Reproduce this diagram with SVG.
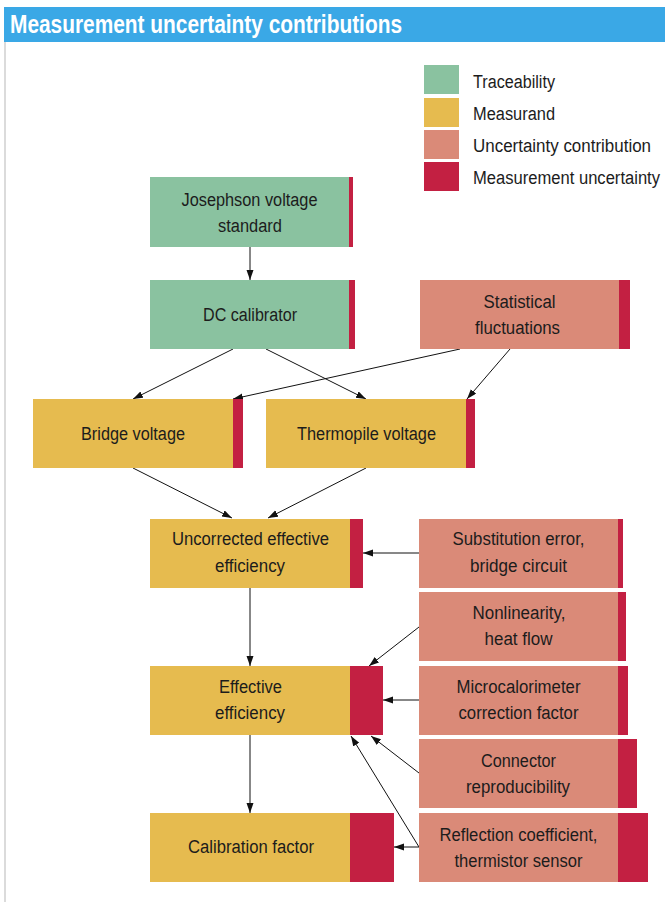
<svg xmlns="http://www.w3.org/2000/svg" width="665" height="902" viewBox="0 0 665 902">
  <defs>
    <style>
      .t { font-family: "Liberation Sans Narrow", "Liberation Sans", Arial, sans-serif; font-size: 18px; fill: #1c1c1c; }
      .title { font-family: "Liberation Sans Narrow", "Liberation Sans", Arial, sans-serif; font-size: 25px; font-weight: bold; fill: #ffffff; }
      .trace { fill: #8ac2a0; }
      .meas { fill: #e6bb4f; }
      .contrib { fill: #da8a78; }
      .unc { fill: #c32042; }
      .conn line { stroke: #111111; stroke-width: 1; fill: none; marker-end: url(#arrow); }
    </style>
    <marker id="arrow" markerUnits="userSpaceOnUse" markerWidth="11" markerHeight="8" refX="10" refY="3.5" orient="auto">
      <path d="M0,0 L10,3.5 L0,7 Z" fill="#111111"/>
    </marker>
  </defs>

  <rect width="665" height="902" fill="#ffffff"/>

  <!-- header bar and frame -->
  <rect x="4" y="7" width="661" height="35" fill="#3aa8e6"/>
  <line x1="5" y1="42" x2="5" y2="902" stroke="#cfcfcf" stroke-width="1.5"/>
  <text class="title" x="10" y="33" textLength="392" lengthAdjust="spacingAndGlyphs">Measurement uncertainty contributions</text>

  <!-- legend -->
  <g id="legend">
    <rect class="trace" x="424" y="65" width="35" height="29"/>
    <rect class="meas" x="424" y="98" width="35" height="29"/>
    <rect class="contrib" x="424" y="130" width="35" height="29"/>
    <rect class="unc" x="424" y="162" width="35" height="29"/>
    <text class="t" x="473" y="88" textLength="82" lengthAdjust="spacingAndGlyphs">Traceability</text>
    <text class="t" x="473" y="120" textLength="82" lengthAdjust="spacingAndGlyphs">Measurand</text>
    <text class="t" x="473" y="152" textLength="178" lengthAdjust="spacingAndGlyphs">Uncertainty contribution</text>
    <text class="t" x="473" y="184" textLength="187" lengthAdjust="spacingAndGlyphs">Measurement uncertainty</text>
  </g>

  <!-- connectors -->
  <g id="connectors" class="conn">
    <line x1="250" y1="247" x2="250" y2="280"/>
    <line x1="233" y1="349" x2="133" y2="399"/>
    <line x1="266" y1="349" x2="366" y2="399"/>
    <line x1="460" y1="349" x2="233" y2="399"/>
    <line x1="510" y1="349" x2="467" y2="399"/>
    <line x1="133" y1="468" x2="232" y2="518"/>
    <line x1="366" y1="468" x2="268" y2="518"/>
    <line x1="419" y1="553" x2="363" y2="553"/>
    <line x1="250" y1="588" x2="250" y2="666"/>
    <line x1="419" y1="627" x2="369" y2="666"/>
    <line x1="419" y1="700" x2="383" y2="700"/>
    <line x1="419" y1="773" x2="371" y2="736"/>
    <line x1="419" y1="847" x2="351" y2="736"/>
    <line x1="419" y1="847" x2="394" y2="847"/>
    <line x1="250" y1="735" x2="250" y2="813"/>
  </g>

  <!-- traceability nodes -->
  <g id="josephson">
    <rect class="trace" x="150" y="177" width="199" height="70"/>
    <rect class="unc" x="349" y="177" width="4" height="70"/>
    <text class="t" x="181.5" y="206" textLength="136" lengthAdjust="spacingAndGlyphs">Josephson voltage</text>
    <text class="t" x="218" y="232" textLength="64" lengthAdjust="spacingAndGlyphs">standard</text>
  </g>
  <g id="dc-calibrator">
    <rect class="trace" x="150" y="280" width="199" height="69"/>
    <rect class="unc" x="349" y="280" width="6" height="69"/>
    <text class="t" x="203" y="321" textLength="94" lengthAdjust="spacingAndGlyphs">DC calibrator</text>
  </g>

  <!-- uncertainty contributions -->
  <g id="statistical">
    <rect class="contrib" x="420" y="280" width="199" height="69"/>
    <rect class="unc" x="619" y="280" width="11" height="69"/>
    <text class="t" x="483.5" y="308" textLength="72" lengthAdjust="spacingAndGlyphs">Statistical</text>
    <text class="t" x="475" y="334" textLength="85" lengthAdjust="spacingAndGlyphs">fluctuations</text>
  </g>
  <g id="substitution">
    <rect class="contrib" x="419" y="519" width="199" height="69"/>
    <rect class="unc" x="618" y="519" width="5" height="69"/>
    <text class="t" x="452.5" y="545" textLength="132" lengthAdjust="spacingAndGlyphs">Substitution error,</text>
    <text class="t" x="470" y="572" textLength="97" lengthAdjust="spacingAndGlyphs">bridge circuit</text>
  </g>
  <g id="nonlinearity">
    <rect class="contrib" x="419" y="592" width="199" height="69"/>
    <rect class="unc" x="618" y="592" width="8" height="69"/>
    <text class="t" x="472.5" y="619" textLength="93" lengthAdjust="spacingAndGlyphs">Nonlinearity,</text>
    <text class="t" x="484.5" y="645" textLength="68" lengthAdjust="spacingAndGlyphs">heat flow</text>
  </g>
  <g id="microcalorimeter">
    <rect class="contrib" x="419" y="666" width="199" height="69"/>
    <rect class="unc" x="618" y="666" width="10" height="69"/>
    <text class="t" x="456.5" y="693" textLength="124" lengthAdjust="spacingAndGlyphs">Microcalorimeter</text>
    <text class="t" x="458.5" y="719" textLength="120" lengthAdjust="spacingAndGlyphs">correction factor</text>
  </g>
  <g id="connector">
    <rect class="contrib" x="419" y="739" width="199" height="69"/>
    <rect class="unc" x="618" y="739" width="19" height="69"/>
    <text class="t" x="481" y="767" textLength="75" lengthAdjust="spacingAndGlyphs">Connector</text>
    <text class="t" x="466" y="793" textLength="104" lengthAdjust="spacingAndGlyphs">reproducibility</text>
  </g>
  <g id="reflection">
    <rect class="contrib" x="419" y="813" width="199" height="69"/>
    <rect class="unc" x="618" y="813" width="30" height="69"/>
    <text class="t" x="439.5" y="841" textLength="158" lengthAdjust="spacingAndGlyphs">Reflection coefficient,</text>
    <text class="t" x="454.5" y="867" textLength="128" lengthAdjust="spacingAndGlyphs">thermistor sensor</text>
  </g>

  <!-- measurands -->
  <g id="bridge-voltage">
    <rect class="meas" x="33" y="399" width="200" height="69"/>
    <rect class="unc" x="233" y="399" width="10" height="69"/>
    <text class="t" x="81" y="440" textLength="104" lengthAdjust="spacingAndGlyphs">Bridge voltage</text>
  </g>
  <g id="thermopile-voltage">
    <rect class="meas" x="266" y="399" width="200" height="69"/>
    <rect class="unc" x="466" y="399" width="9" height="69"/>
    <text class="t" x="297" y="440" textLength="139" lengthAdjust="spacingAndGlyphs">Thermopile voltage</text>
  </g>
  <g id="uncorrected-efficiency">
    <rect class="meas" x="150" y="519" width="200" height="69"/>
    <rect class="unc" x="350" y="519" width="13" height="69"/>
    <text class="t" x="172" y="545" textLength="157" lengthAdjust="spacingAndGlyphs">Uncorrected effective</text>
    <text class="t" x="215" y="572" textLength="70" lengthAdjust="spacingAndGlyphs">efficiency</text>
  </g>
  <g id="effective-efficiency">
    <rect class="meas" x="150" y="666" width="200" height="69"/>
    <rect class="unc" x="350" y="666" width="33" height="69"/>
    <text class="t" x="219" y="693" textLength="63" lengthAdjust="spacingAndGlyphs">Effective</text>
    <text class="t" x="215" y="719" textLength="70" lengthAdjust="spacingAndGlyphs">efficiency</text>
  </g>
  <g id="calibration-factor">
    <rect class="meas" x="150" y="813" width="200" height="69"/>
    <rect class="unc" x="350" y="813" width="44" height="69"/>
    <text class="t" x="188" y="853" textLength="126" lengthAdjust="spacingAndGlyphs">Calibration factor</text>
  </g>
</svg>
